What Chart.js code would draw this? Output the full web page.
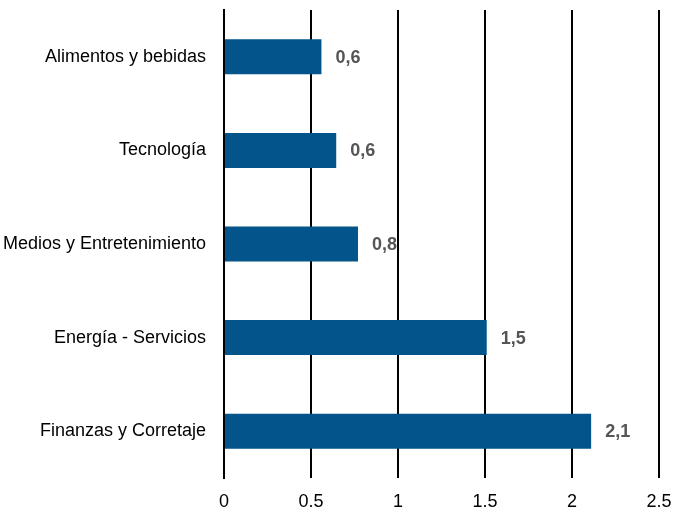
<!DOCTYPE html>
<html>
<head>
<meta charset="utf-8">
<script src="https://cdn.jsdelivr.net/npm/chart.js@4/dist/chart.umd.min.js"></script>
<style>
html,body{margin:0;padding:0;background:#fff;}
#wrap{width:673px;height:513px;}
</style>
</head>
<body>
<div id="wrap"><canvas id="c" width="673" height="513"></canvas></div>
<script>
const categories = ["Alimentos y bebidas", "Tecnología", "Medios y Entretenimiento", "Energía - Servicios", "Finanzas y Corretaje"];
const values = [0.56, 0.645, 0.77, 1.51, 2.11];
const valueLabels = ["0,6", "0,6", "0,8", "1,5", "2,1"];
const xTicks = [0, 0.5, 1, 1.5, 2, 2.5];

const FONT = "'Liberation Sans Narrow', 'Arial Narrow', 'Liberation Sans', Arial, sans-serif";

const valueLabelPlugin = {
  id: 'valueLabels',
  afterDatasetsDraw(chart) {
    const ctx = chart.ctx;
    const meta = chart.getDatasetMeta(0);
    ctx.save();
    ctx.font = "bold 18px " + FONT;
    ctx.fillStyle = "#555555";
    ctx.textAlign = "left";
    ctx.textBaseline = "middle";
    meta.data.forEach((bar, i) => {
      ctx.fillText(valueLabels[i], bar.x + 14, bar.y + 1);
    });
    ctx.restore();
  }
};

function zeroPad(scale) {
  scale.paddingTop = 0; scale.paddingBottom = 0;
  scale.paddingLeft = 0; scale.paddingRight = 0;
}

new Chart(document.getElementById('c'), {
  type: 'bar',
  data: {
    labels: categories,
    datasets: [{
      data: values,
      backgroundColor: '#03548A',
      borderWidth: 0,
      barPercentage: 0.374,
      categoryPercentage: 1.0
    }]
  },
  options: {
    indexAxis: 'y',
    responsive: false,
    animation: false,
    devicePixelRatio: 1,
    layout: { padding: { top: 10, right: 14, left: 0, bottom: 0 } },
    plugins: { legend: { display: false }, tooltip: { enabled: false } },
    scales: {
      x: {
        min: 0,
        max: 2.5,
        afterBuildTicks(scale) { scale.ticks = xTicks.map(v => ({ value: v })); },
        afterFit(scale) { scale.height = 35; zeroPad(scale); },
        grid: { color: '#000000', lineWidth: 2, drawTicks: false },
        border: { display: false },
        ticks: {
          color: '#000000',
          font: { family: FONT, size: 18 },
          padding: 13,
          maxRotation: 0,
          callback: (v) => String(v)
        }
      },
      y: {
        afterFit(scale) { scale.width = 224; zeroPad(scale); },
        grid: { display: false, drawTicks: false },
        border: { display: true, color: '#000000', width: 2 },
        ticks: {
          color: '#000000',
          font: { family: FONT, size: 18 },
          padding: 18
        }
      }
    }
  },
  plugins: [valueLabelPlugin]
});
</script>
</body>
</html>
